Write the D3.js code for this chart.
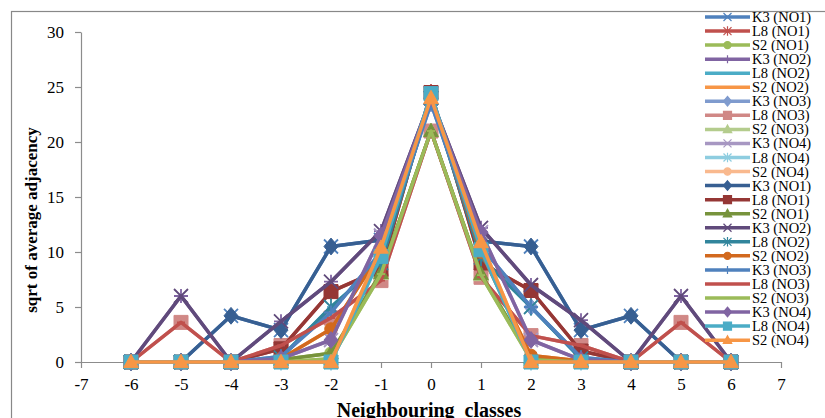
<!DOCTYPE html>
<html>
<head>
<meta charset="utf-8">
<script src="https://cdn.jsdelivr.net/npm/d3@7"></script>
<style>
	body { margin: 0; background: #fff; }
	svg { display: block; }
</style>
</head>
<body>
<div id="chart"></div>
<script>
// neighbouring classes on the x axis
var classes = [-6, -5, -4, -3, -2, -1, 0, 1, 2, 3, 4, 5, 6];
var x_ticks = [-7, -6, -5, -4, -3, -2, -1, 0, 1, 2, 3, 4, 5, 6, 7];
var y_ticks = [0, 5, 10, 15, 20, 25, 30];

// sqrt of average adjacency
var k3_no1 = [0, 0, 4.2, 2.9, 10.5, 11.1, 24.0, 11.0, 10.5, 2.9, 4.2, 0, 0];
var l8_no1 = [0, 0, 0, 1.2, 6.4, 8.4, 24.5, 9.0, 6.5, 1.0, 0, 0, 0];
var s2_no1 = [0, 0, 0, 0.2, 0.8, 8.1, 21.0, 8.0, 0.4, 0.1, 0, 0, 0];
var k3_no2 = [0, 6.0, 0, 3.7, 7.3, 11.9, 24.0, 12.2, 7.0, 3.8, 0, 6.0, 0];
var l8_no2 = [0, 0, 0, 0.4, 5.0, 9.0, 24.0, 9.5, 5.0, 0.3, 0, 0, 0];
var s2_no2 = [0, 0, 0, 0.3, 3.0, 10.0, 24.0, 10.0, 0.6, 0.1, 0, 0, 0];
var k3_no3 = [0, 0, 0, 0.5, 4.5, 10.0, 23.5, 10.5, 5.0, 0.4, 0, 0, 0];
var l8_no3 = [0, 3.6, 0, 1.5, 4.0, 7.4, 21.0, 7.7, 2.4, 1.5, 0, 3.6, 0];
var s2_no3 = [0, 0, 0, 0, 0.3, 8.0, 21.0, 7.9, 0.2, 0, 0, 0, 0];
var k3_no4 = [0, 0, 0, 0.3, 2.0, 11.5, 24.0, 11.8, 2.0, 0.2, 0, 0, 0];
var l8_no4 = [0, 0, 0, 0, 0, 9.6, 24.4, 10.2, 0, 0, 0, 0, 0];
var s2_no4 = [0, 0, 0, 0, 0, 10.4, 24.0, 10.9, 0, 0, 0, 0, 0];

var series_names = ["K3 (NO1)", "L8 (NO1)", "S2 (NO1)", "K3 (NO2)", "L8 (NO2)", "S2 (NO2)",
	"K3 (NO3)", "L8 (NO3)", "S2 (NO3)", "K3 (NO4)", "L8 (NO4)", "S2 (NO4)"];
var series_values = [k3_no1, l8_no1, s2_no1, k3_no2, l8_no2, s2_no2,
	k3_no3, l8_no3, s2_no3, k3_no4, l8_no4, s2_no4];

// two runs of the same twelve series, each with its own look
var colors = ["#4F81BD", "#C0504D", "#9BBB59", "#8064A2", "#4BACC6", "#F79646",
	"#7F9BCE", "#D08886", "#B4CC8D", "#A797C2", "#8ECDE0", "#F9B98E",
	"#375F92", "#953735", "#77933C", "#604A7B", "#31859C", "#D2691E",
	"#4F81BD", "#C0504D", "#9BBB59", "#8064A2", "#4BACC6", "#F79646"];
var markers = ["x", "star", "circle", "plus", "dash", "dash",
	"diamond", "square", "triangle", "x", "star", "circle",
	"diamond", "square", "triangle", "x", "star", "circle",
	"plus", "dash", "dash", "diamond", "square", "triangle"];

var series = [];
for (var i = 0; i < 24; i++) {
	series.push({
		name: series_names[i % 12],
		values: series_values[i % 12],
		color: colors[i],
		marker: markers[i]
	});
}

var chart_width = 825,
	chart_height = 418;

var svg = d3.select("#chart")
	.append("svg")
		.attr("width", chart_width)
		.attr("height", chart_height);

// outer chart border
svg.append("rect")
	.attr("x", 11.5)
	.attr("y", 11.5)
	.attr("width", 840)
	.attr("height", 440)
	.attr("fill", "none")
	.attr("stroke", "#888")
	.attr("stroke-width", 1.2);

var x = d3.scaleLinear().domain([-7, 7]).range([81, 781]);
var y = d3.scaleLinear().domain([0, 30]).range([362, 32]);

var serif = "'Liberation Serif', 'Times New Roman', serif";

// y axis
var y_axis = svg.append("g")
	.attr("transform", "translate(" + x(-7) + ",0)")
	.call(d3.axisLeft(y).tickValues(y_ticks).tickSize(6).tickSizeOuter(0).tickPadding(11));
// x axis (plain hyphen minus, like the original)
var x_axis = svg.append("g")
	.attr("transform", "translate(0," + y(0) + ")")
	.call(d3.axisBottom(x).tickValues(x_ticks).tickSize(6).tickSizeOuter(0).tickPadding(10)
		.tickFormat(function(d) { return String(d); }));

[y_axis, x_axis].forEach(function(a) {
	a.selectAll("path, line").attr("stroke", "#8c8c8c").attr("stroke-width", 1.2);
	a.selectAll("text")
		.attr("fill", "#000")
		.attr("font-family", serif)
		.attr("font-size", 17);
});

svg.append("text")
	.attr("transform", "translate(37,220) rotate(-90)")
	.attr("text-anchor", "middle")
	.attr("font-family", serif)
	.attr("font-weight", "bold")
	.attr("font-size", 17)
	.text("sqrt of average adjacency");

svg.append("text")
	.attr("x", 429)
	.attr("y", 417)
	.attr("text-anchor", "middle")
	.attr("font-family", serif)
	.attr("font-weight", "bold")
	.attr("font-size", 20)
	.style("white-space", "pre")
	.text("Neighbouring  classes");

function marker_path(type, s) {
	var h = s / 2;
	switch (type) {
		case "x": return "M" + -h + "," + -h + "L" + h + "," + h + "M" + -h + "," + h + "L" + h + "," + -h;
		case "star": return "M" + -h + "," + -h + "L" + h + "," + h + "M" + -h + "," + h + "L" + h + "," + -h + "M0," + -h * 1.2 + "L0," + h * 1.2;
		case "plus": return "M" + -h + ",0L" + h + ",0M0," + -h + "L0," + h;
		case "dash": return "M" + -h + ",0L" + h + ",0";
		case "diamond": return "M0," + -h * 1.2 + "L" + h + ",0L0," + h * 1.2 + "L" + -h + ",0Z";
		case "square": return "M" + -h + "," + -h + "H" + h + "V" + h + "H" + -h + "Z";
		case "triangle": return "M0," + -h * 1.1 + "L" + h * 1.05 + "," + h * 0.8 + "L" + -h * 1.05 + "," + h * 0.8 + "Z";
		case "circle": return d3.symbol(d3.symbolCircle, Math.PI * h * h * 0.8)();
	}
}

function is_filled(type) {
	return type == "diamond" || type == "square" || type == "triangle" || type == "circle";
}

var line = d3.line()
	.x(function(d, i) { return x(classes[i]); })
	.y(function(d) { return y(d); });

// draw each series: line then markers
series.forEach(function(s) {
	var g = svg.append("g");
	g.append("path")
		.datum(s.values)
		.attr("d", line)
		.attr("fill", "none")
		.attr("stroke", s.color)
		.attr("stroke-width", 3.5)
		.attr("stroke-linejoin", "round");
	g.selectAll("path.mk")
		.data(s.values)
		.enter()
		.append("path")
		.attr("class", "mk")
		.attr("transform", function(d, i) {
			return "translate(" + x(classes[i]) + "," + y(d) + ")";
		})
		.attr("d", marker_path(s.marker, s.marker == "dash" ? 8 : 14))
		.attr("fill", is_filled(s.marker) ? s.color : "none")
		.attr("stroke", s.color)
		.attr("stroke-width", is_filled(s.marker) ? 1 : 1.8);
});

// legend
var legend = svg.append("g").attr("transform", "translate(705,17)");
var items = legend.selectAll("g")
	.data(series)
	.enter()
	.append("g")
	.attr("transform", function(d, i) { return "translate(0," + i * 14.05 + ")"; });

items.append("line")
	.attr("x1", 0)
	.attr("x2", 45)
	.attr("stroke", function(d) { return d.color; })
	.attr("stroke-width", 3.5);

items.append("path")
	.attr("transform", "translate(22.5,0)")
	.attr("d", function(d) { return marker_path(d.marker, d.marker == "dash" ? 6 : 8); })
	.attr("fill", function(d) { return is_filled(d.marker) ? d.color : "none"; })
	.attr("stroke", function(d) { return d.color; })
	.attr("stroke-width", 1.2);

items.append("text")
	.attr("x", 47)
	.attr("y", 5)
	.attr("font-family", serif)
	.attr("font-size", 14.5)
	.attr("fill", "#000")
	.text(function(d) { return d.name; });
</script>
</body>
</html>
